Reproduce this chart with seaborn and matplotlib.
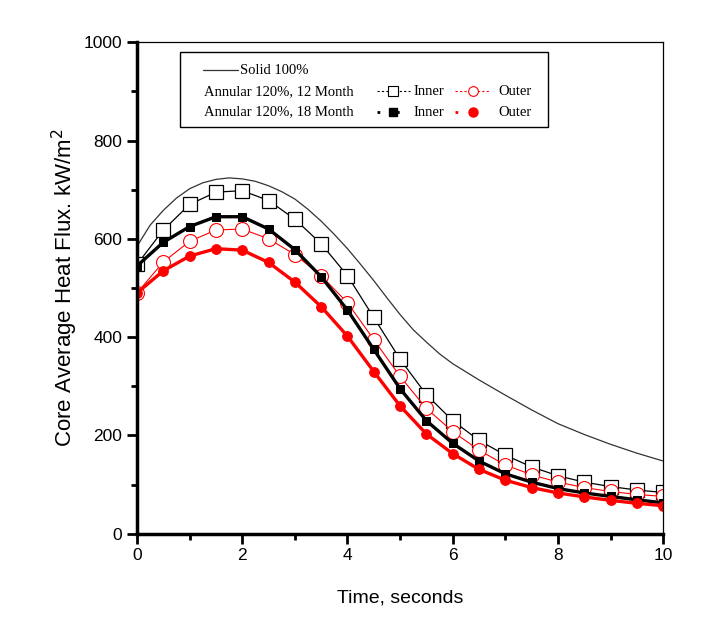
import matplotlib
matplotlib.use('Agg')
import matplotlib.pyplot as plt
import seaborn as sns
import numpy as np
from matplotlib.lines import Line2D
from matplotlib.patches import Rectangle
from matplotlib.ticker import MultipleLocator

# Zaman ekseni (saniye)
time_s = [0, 0.5, 1, 1.5, 2, 2.5, 3, 3.5, 4, 4.5, 5,
          5.5, 6, 6.5, 7, 7.5, 8, 8.5, 9, 9.5, 10]

# Solid 100% eğrisi daha sık okunmuş noktalar (pürüzsüz görünüm için)
time_fine = [0, 0.25, 0.5, 0.75, 1, 1.25, 1.5, 1.75, 2, 2.25, 2.5, 2.75,
             3, 3.25, 3.5, 3.75, 4, 4.25, 4.5, 4.75, 5, 5.25, 5.5, 5.75,
             6, 6.5, 7, 7.5, 8, 8.5, 9, 9.5, 10]
solid_100 = [585, 628, 658, 683, 702, 714, 721, 724, 722, 717, 708, 696,
             681, 660, 636, 609, 580, 548, 515, 480, 446, 415, 390, 366,
             346, 313, 282, 252, 224, 202, 182, 164, 148]

inner_12m = [548, 618, 670, 695, 698, 678, 640, 590, 525, 440, 355,
             283, 230, 190, 160, 136, 118, 105, 96, 89, 84]
outer_12m = [490, 553, 595, 618, 620, 600, 568, 525, 470, 395, 320,
             255, 208, 170, 140, 120, 105, 94, 86, 80, 76]
inner_18m = [545, 593, 625, 645, 645, 620, 578, 523, 455, 375, 295,
             230, 184, 148, 122, 105, 92, 83, 76, 69, 63]
outer_18m = [490, 535, 565, 580, 577, 552, 512, 462, 402, 330, 260,
             203, 163, 131, 109, 94, 83, 75, 68, 62, 57]

sns.set_style("white")
plt.rcParams['font.family'] = ['Liberation Sans', 'DejaVu Sans']
plt.rcParams['text.color'] = 'black'
plt.rcParams['axes.labelcolor'] = 'black'
plt.rcParams['xtick.color'] = 'black'
plt.rcParams['ytick.color'] = 'black'

fig = plt.figure(figsize=(7.1, 6.4), dpi=100)
ax = fig.add_axes([0.193, 0.166, 0.741, 0.768])

kirmizi = '#ff0000'
sns.lineplot(x=time_fine, y=solid_100, ax=ax, color='#333333', linewidth=0.9)
sns.lineplot(x=time_s, y=inner_12m, ax=ax, color='black', linewidth=0.9,
             marker='s', markersize=10, markerfacecolor='white',
             markeredgecolor='black', markeredgewidth=0.9)
sns.lineplot(x=time_s, y=outer_12m, ax=ax, color=kirmizi, linewidth=0.8,
             marker='o', markersize=10, markerfacecolor='white',
             markeredgecolor=kirmizi, markeredgewidth=0.8)
sns.lineplot(x=time_s, y=inner_18m, ax=ax, color='black', linewidth=2.4,
             marker='s', markersize=6, markerfacecolor='black',
             markeredgecolor='black')
sns.lineplot(x=time_s, y=outer_18m, ax=ax, color=kirmizi, linewidth=2.4,
             marker='o', markersize=7, markerfacecolor=kirmizi,
             markeredgecolor=kirmizi)

ax.set_xlim(0, 10)
ax.set_ylim(0, 1000)
ax.xaxis.set_major_locator(MultipleLocator(2))
ax.xaxis.set_minor_locator(MultipleLocator(1))
ax.yaxis.set_major_locator(MultipleLocator(200))
ax.yaxis.set_minor_locator(MultipleLocator(100))
ax.tick_params(which='major', direction='out', length=7, width=2,
               labelsize=12.5, bottom=True, left=True, top=False, right=False)
ax.tick_params(which='minor', direction='out', length=4, width=2,
               bottom=True, left=True, top=False, right=False)
for s in ['left', 'bottom']:
    ax.spines[s].set_linewidth(2.5)
for s in ['top', 'right']:
    ax.spines[s].set_linewidth(0.9)
for s in ax.spines.values():
    s.set_color('black')

ax.set_xlabel("Time, seconds", fontsize=14, labelpad=19)
ax.set_ylabel("Core Average Heat Flux. kW/m$^2$", fontsize=16, labelpad=3)

# Elle çizilen lejant kutusu
tr = ax.transAxes
ax.add_patch(Rectangle((0.082, 0.827), 0.699, 0.153, transform=tr,
                       fill=False, edgecolor='black', linewidth=1.0, zorder=5))
serif = dict(family=['Liberation Serif', 'DejaVu Serif'], fontsize=10.5,
             va='center', transform=tr)
y1, y2, y3 = 0.943, 0.900, 0.858
ax.add_line(Line2D([0.125, 0.192], [y1, y1], transform=tr, color='#333333', lw=0.9))
ax.text(0.196, y1, "Solid 100%", **serif)
ax.text(0.127, y2, "Annular 120%, 12 Month", **serif)
ax.text(0.127, y3, "Annular 120%, 18 Month", **serif)

ax.add_line(Line2D([0.456, 0.519], [y2, y2], transform=tr, color='black', lw=0.8, ls=(0, (2, 2))))
ax.add_line(Line2D([0.487], [y2], transform=tr, marker='s', ms=7, mfc='white', mec='black', mew=0.8))
ax.text(0.525, y2, "Inner", **serif)
ax.add_line(Line2D([0.605, 0.671], [y2, y2], transform=tr, color=kirmizi, lw=0.8, ls=(0, (2, 2))))
ax.add_line(Line2D([0.639], [y2], transform=tr, marker='o', ms=7, mfc='white', mec=kirmizi, mew=0.8))
ax.text(0.686, y2, "Outer", **serif)

ax.add_line(Line2D([0.456, 0.519], [y3, y3], transform=tr, color='black', lw=2, ls=(0, (1, 6))))
ax.add_line(Line2D([0.487], [y3], transform=tr, marker='s', ms=6, mfc='black', mec='black'))
ax.text(0.525, y3, "Inner", **serif)
ax.add_line(Line2D([0.605, 0.671], [y3, y3], transform=tr, color=kirmizi, lw=2, ls=(0, (1, 6))))
ax.add_line(Line2D([0.639], [y3], transform=tr, marker='o', ms=6.5, mfc=kirmizi, mec=kirmizi))
ax.text(0.686, y3, "Outer", **serif)

plt.savefig("out.png", dpi=100)
